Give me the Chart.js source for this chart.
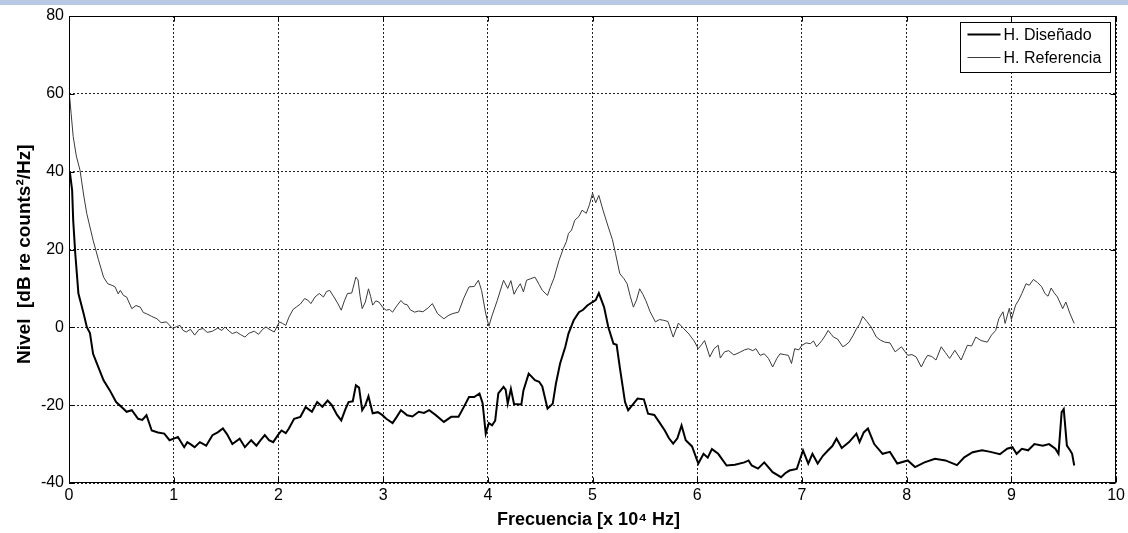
<!DOCTYPE html>
<html>
<head>
<meta charset="utf-8">
<script src="https://cdn.jsdelivr.net/npm/chart.js@4"></script>
<style>
html,body{margin:0;padding:0;background:#fff;}
#wrap{position:relative;width:1128px;height:533px;}
#band{position:absolute;left:0;top:0;width:1128px;height:5px;background:#b7c9e5;z-index:2;}
canvas{position:absolute;left:0;top:0;}
</style>
</head>
<body>
<div id="wrap"><div id="band"></div><canvas id="c" width="1128" height="533"></canvas></div>
<script>
const seriesNames = ["H. Diseñado", "H. Referencia"];
const xTicks = [0,1,2,3,4,5,6,7,8,9,10];
const yTicks = [-40,-20,0,20,40,60,80];
const xTitle = "Frecuencia [x 10\u2074 Hz]";
const yTitle = "Nivel  [dB re counts\u00B2/Hz]";

const refX = [0.00,0.02,0.04,0.07,0.105,0.14,0.17,0.23,0.28,0.33,0.37,0.41,0.44,0.47,0.49,0.52,0.55,0.60,0.64,0.68,0.71,0.74,0.79,0.84,0.88,0.93,0.99,1.03,1.06,1.09,1.12,1.16,1.20,1.24,1.28,1.32,1.37,1.42,1.46,1.49,1.53,1.56,1.60,1.64,1.68,1.72,1.77,1.81,1.85,1.88,1.92,1.96,2.01,2.04,2.07,2.10,2.14,2.17,2.21,2.25,2.28,2.31,2.35,2.39,2.43,2.46,2.49,2.53,2.57,2.60,2.63,2.66,2.70,2.74,2.76,2.78,2.80,2.83,2.86,2.88,2.90,2.93,2.96,3.00,3.03,3.06,3.09,3.13,3.17,3.20,3.23,3.26,3.30,3.34,3.38,3.43,3.47,3.52,3.58,3.62,3.66,3.72,3.77,3.82,3.87,3.91,3.94,3.98,4.01,4.04,4.09,4.15,4.19,4.22,4.25,4.28,4.31,4.34,4.37,4.41,4.45,4.49,4.52,4.57,4.60,4.63,4.68,4.72,4.75,4.77,4.80,4.83,4.87,4.90,4.94,4.97,5.00,5.03,5.06,5.10,5.15,5.19,5.22,5.26,5.30,5.33,5.36,5.39,5.42,5.45,5.48,5.51,5.55,5.60,5.64,5.68,5.72,5.77,5.82,5.87,5.92,5.97,6.01,6.04,6.07,6.12,6.16,6.20,6.22,6.26,6.30,6.35,6.40,6.45,6.49,6.53,6.56,6.60,6.64,6.68,6.72,6.76,6.79,6.83,6.87,6.90,6.93,6.97,7.00,7.04,7.08,7.11,7.14,7.19,7.22,7.25,7.28,7.30,7.34,7.39,7.42,7.45,7.49,7.52,7.55,7.58,7.62,7.66,7.71,7.75,7.79,7.84,7.89,7.95,8.01,8.05,8.09,8.14,8.17,8.20,8.24,8.28,8.33,8.37,8.41,8.46,8.52,8.55,8.58,8.62,8.66,8.71,8.77,8.81,8.85,8.88,8.92,8.94,8.98,9.00,9.04,9.07,9.10,9.14,9.17,9.21,9.25,9.29,9.32,9.35,9.38,9.41,9.44,9.49,9.52,9.56,9.60];
const refY = [61,55,49,44,40.4,34,29.2,22.4,17.5,12.9,11.2,10.8,10.4,8.6,9.5,8.2,7.8,4.8,5.6,5.2,3.8,3.5,2.8,2.2,1.2,1.4,-0.3,0.2,0.5,-0.8,-1.2,-0.5,-2.0,-0.6,-0.3,-1.3,-1.0,-0.2,-0.8,0.1,-1.0,-1.6,-1.2,-1.9,-2.5,-1.5,-1.0,-1.8,-0.5,0.1,-0.6,-1.2,1.4,1.0,0.5,2.6,4.6,5.2,6.0,7.4,7.0,6.1,7.8,8.7,7.8,9.2,9.5,7.8,6.0,4.4,6.8,8.7,8.8,12.9,12.2,8.0,4.8,6.5,9.9,8.0,5.7,6.8,6.5,5.0,4.4,4.6,3.9,5.5,6.9,6.0,5.8,4.5,3.9,4.2,4.0,5.0,6.1,3.5,2.2,3.0,3.5,3.9,7.5,10.4,10.5,12.1,9.5,3.5,0.3,3.0,6.9,12.1,10.0,12.0,8.5,10.0,11.2,9.1,12.1,12.5,12.9,11.0,9.5,8.2,10.5,12.5,17.2,20.2,22.0,24.1,25.0,27.5,28.5,30.1,29.3,31.5,34.5,32.0,33.9,30.1,25.8,22.5,18.9,13.8,12.5,11.2,8.0,5.2,7.0,9.9,8.5,6.8,4.0,1.4,2.0,1.8,1.5,-2.5,1.1,-0.3,-1.7,-3.5,-5.5,-4.5,-3.4,-7.6,-5.5,-4.6,-7.9,-6.3,-6.0,-7.1,-6.5,-5.8,-5.5,-6.0,-5.5,-7.2,-6.8,-8.0,-10.2,-8.0,-6.8,-7.0,-7.2,-9.3,-5.5,-5.8,-4.6,-4.0,-4.2,-3.5,-5.0,-3.4,-2.2,-0.8,-1.8,-2.5,-3.0,-5.0,-4.5,-3.8,-2.0,-0.4,0.8,2.8,1.5,0.1,-2.5,-3.3,-3.8,-4.0,-6.3,-5.0,-7.2,-7.0,-7.6,-10.2,-8.5,-7.2,-7.5,-8.4,-5.0,-6.5,-8.0,-5.9,-8.4,-6.5,-4.6,-4.8,-2.5,-3.4,-3.8,-2.0,-0.8,2.2,4.0,1.0,4.9,2.0,5.7,7.0,8.7,11.2,10.8,12.3,11.5,10.4,8.7,8.0,10.1,8.8,7.8,4.8,6.5,3.5,1.0];

const desX = [0.00,0.01,0.03,0.04,0.06,0.09,0.14,0.17,0.20,0.23,0.28,0.33,0.39,0.45,0.52,0.55,0.60,0.66,0.70,0.74,0.79,0.85,0.91,0.96,1.00,1.04,1.10,1.13,1.17,1.20,1.25,1.31,1.37,1.42,1.47,1.51,1.56,1.63,1.68,1.74,1.79,1.83,1.87,1.91,1.95,2.00,2.03,2.07,2.10,2.15,2.21,2.26,2.32,2.37,2.42,2.47,2.51,2.56,2.60,2.64,2.67,2.71,2.74,2.77,2.80,2.83,2.86,2.90,2.95,2.99,3.03,3.09,3.13,3.17,3.23,3.28,3.34,3.39,3.44,3.50,3.58,3.65,3.72,3.77,3.82,3.87,3.92,3.95,3.98,4.01,4.04,4.07,4.10,4.15,4.17,4.19,4.22,4.25,4.32,4.34,4.39,4.45,4.49,4.52,4.57,4.62,4.65,4.69,4.74,4.77,4.82,4.87,4.91,4.95,5.00,5.03,5.06,5.11,5.15,5.20,5.23,5.26,5.31,5.34,5.38,5.43,5.49,5.53,5.59,5.64,5.69,5.73,5.77,5.81,5.85,5.89,5.95,6.01,6.06,6.10,6.14,6.20,6.28,6.36,6.45,6.49,6.52,6.58,6.64,6.72,6.80,6.84,6.88,6.95,7.01,7.06,7.10,7.15,7.20,7.25,7.29,7.33,7.38,7.45,7.52,7.55,7.59,7.63,7.69,7.77,7.84,7.91,8.01,8.08,8.17,8.27,8.37,8.48,8.55,8.63,8.72,8.80,8.89,8.96,9.01,9.05,9.10,9.16,9.22,9.30,9.36,9.42,9.45,9.48,9.50,9.53,9.56,9.58,9.60];
const desY = [40,39.5,35.2,27.5,18.9,8.7,3.5,0.1,-1.5,-6.8,-10.2,-13.6,-16.2,-19.2,-20.9,-21.7,-21.3,-23.5,-23.8,-22.6,-26.5,-27.0,-27.3,-29.0,-28.6,-28.2,-30.8,-29.5,-30.2,-30.8,-29.5,-30.4,-27.7,-27.0,-26.0,-27.5,-30.0,-28.6,-30.8,-29.0,-30.4,-29.0,-27.7,-29.0,-29.5,-27.5,-26.5,-27.2,-26.0,-23.5,-23.0,-20.5,-21.7,-19.2,-20.4,-18.8,-20.0,-22.5,-23.9,-21.0,-19.2,-19.0,-14.9,-15.5,-21.3,-20.0,-17.7,-22.1,-21.8,-22.5,-23.5,-24.6,-23.0,-21.3,-22.6,-22.9,-21.7,-22.0,-21.3,-22.5,-24.3,-23.0,-23.0,-20.5,-17.9,-17.9,-17.0,-19.5,-27.3,-24.6,-25.2,-24.0,-17.0,-15.3,-16.0,-19.6,-15.8,-19.7,-19.8,-16.2,-11.9,-13.6,-14.0,-15.2,-20.9,-19.6,-14.5,-9.3,-5.0,-1.6,1.8,3.9,4.5,5.6,6.5,7.0,8.8,5.2,0.1,-4.2,-4.5,-10.2,-19.2,-21.3,-20.0,-18.3,-18.5,-22.2,-22.5,-24.5,-26.5,-28.5,-29.9,-28.5,-25.2,-29.0,-30.6,-35.0,-32.5,-33.5,-31.3,-32.5,-35.5,-35.3,-34.7,-34.2,-35.5,-36.3,-34.7,-37.2,-38.5,-37.5,-36.8,-36.4,-31.6,-35.0,-32.5,-35.0,-33.0,-31.6,-30.5,-28.6,-31.0,-29.5,-27.3,-29.5,-27.0,-26.0,-30.0,-32.5,-32.0,-35.0,-34.2,-35.9,-34.7,-33.8,-34.2,-35.4,-33.4,-32.1,-31.6,-32.0,-32.6,-31.2,-30.8,-32.5,-31.2,-31.6,-30.0,-30.4,-30.0,-31.2,-32.5,-21.8,-21.0,-30.4,-31.6,-32.5,-35.5];

const FONT = "'Liberation Sans', Arial, sans-serif";

const frame = {
  id: 'frame',
  afterDraw(chart) {
    const ctx = chart.ctx, a = chart.chartArea;
    const xs = chart.scales.x, ys = chart.scales.y;
    const L = Math.round(a.left) + 0.5, R = Math.round(a.right) - 0.5;
    const T = Math.round(a.top) + 0.5, B = Math.round(a.bottom) - 0.5;
    ctx.save();
    ctx.strokeStyle = '#000'; ctx.lineWidth = 1; ctx.setLineDash([]);
    ctx.strokeRect(L, T, R - L, B - T);
    const tl = 5;
    ctx.beginPath();
    xTicks.forEach(v => {
      const px = Math.round(xs.getPixelForValue(v)) + 0.5;
      ctx.moveTo(px, B); ctx.lineTo(px, B - tl);
      ctx.moveTo(px, T); ctx.lineTo(px, T + tl);
    });
    yTicks.forEach(v => {
      const py = Math.round(ys.getPixelForValue(v)) + 0.5;
      ctx.moveTo(L, py); ctx.lineTo(L + tl, py);
      ctx.moveTo(R, py); ctx.lineTo(R - tl, py);
    });
    ctx.stroke();

    // legend
    const bw = 150, bh = 50;
    const bx = Math.round(a.right) - 6 - bw + 0.5, by = Math.round(a.top) + 6 + 0.5;
    ctx.fillStyle = '#fff';
    ctx.fillRect(bx, by, bw, bh);
    ctx.strokeStyle = '#000'; ctx.lineWidth = 1;
    ctx.strokeRect(bx, by, bw, bh);
    const ds = chart.data.datasets;
    const rows = [by + 12, by + 35];
    ds.forEach((d, i) => {
      ctx.beginPath();
      ctx.strokeStyle = d.borderColor; ctx.lineWidth = d.borderWidth;
      ctx.moveTo(bx + 7, rows[i]); ctx.lineTo(bx + 40, rows[i]);
      ctx.stroke();
      ctx.fillStyle = '#000';
      ctx.font = '16px ' + FONT;
      ctx.textBaseline = 'middle'; ctx.textAlign = 'left';
      ctx.fillText(d.label, bx + 43, rows[i] + 1);
    });

    // axis titles
    ctx.fillStyle = '#000';
    ctx.font = 'bold 18px ' + FONT;
    ctx.textAlign = 'center'; ctx.textBaseline = 'middle';
    ctx.fillText(xTitle, (a.left + a.right) / 2 - 4, 520);
    ctx.font = 'bold 19px ' + FONT;
    ctx.translate(25, 364);
    ctx.rotate(-Math.PI / 2);
    ctx.textAlign = 'left';
    ctx.fillText(yTitle, 0, 0);
    ctx.restore();
  }
};

const toPts = (xs, ys) => xs.map((x, i) => ({x: x, y: ys[i]}));

new Chart(document.getElementById('c'), {
  type: 'line',
  data: {
    datasets: [
      {label: seriesNames[0], data: toPts(desX, desY), borderColor: '#000', borderWidth: 2, pointRadius: 0, tension: 0, fill: false},
      {label: seriesNames[1], data: toPts(refX, refY), borderColor: '#3a3a3a', borderWidth: 1, pointRadius: 0, tension: 0, fill: false}
    ]
  },
  options: {
    responsive: false,
    animation: false,
    events: [],
    layout: {padding: {left: 0, right: 9, top: 16, bottom: 0}},
    plugins: {legend: {display: false}, tooltip: {enabled: false}, title: {display: false}},
    scales: {
      x: {
        type: 'linear', min: 0, max: 10,
        afterBuildTicks(s) { s.ticks = xTicks.map(v => ({value: v})); },
        afterFit(s) { s.height = 50; },
        ticks: {color: '#000', font: {family: FONT, size: 16}, padding: 3, maxRotation: 0, autoSkip: false},
        grid: {color: '#222', lineWidth: 1, drawTicks: false},
        border: {display: false, dash: [2, 2]}
      },
      y: {
        type: 'linear', min: -40, max: 80,
        afterBuildTicks(s) { s.ticks = yTicks.map(v => ({value: v})); },
        afterFit(s) { s.width = 69; },
        ticks: {color: '#000', font: {family: FONT, size: 16}, padding: 5, autoSkip: false},
        grid: {color: '#222', lineWidth: 1, drawTicks: false},
        border: {display: false, dash: [2, 2]}
      }
    }
  },
  plugins: [frame]
});
</script>
</body>
</html>
